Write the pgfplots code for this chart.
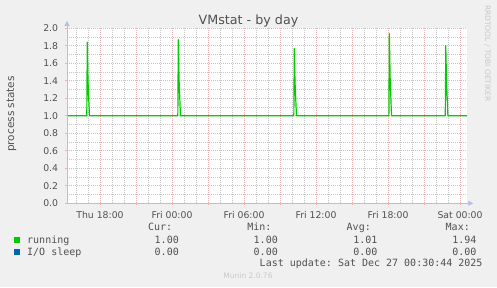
\documentclass[border=0pt]{standalone}
\usepackage{pgfplots}
\pgfplotsset{compat=1.18}
\usepackage{pgfplotstable}
\usepackage{fontspec}
\setmainfont{DejaVu Sans}
\setmonofont{DejaVu Sans Mono}
\usetikzlibrary{arrows.meta}
\definecolor{bg}{HTML}{F0F0F0}
\definecolor{txt}{HTML}{505050}
\definecolor{mgrid}{HTML}{ECB4B4}
\definecolor{sgrid}{HTML}{C8C8C8}
\definecolor{axcol}{HTML}{B4BCF0}
\definecolor{run}{HTML}{00CC00}
\definecolor{ios}{HTML}{0066B3}
\definecolor{wm}{HTML}{C8C8C8}

\pgfplotstableread{
x y
-8.75 1.0
-7.10 1.0
-7.06 1.84
-7.00 1.40
-6.88 1.0
0.485 1.0
0.525 1.87
0.585 1.42
0.705 1.0
10.15 1.0
10.19 1.77
10.25 1.38
10.37 1.0
18.07 1.0
18.11 1.94
18.17 1.45
18.29 1.0
22.77 1.0
22.81 1.80
22.87 1.40
22.99 1.0
24.58 1.0
}\running
\pgfplotstableread{
x y
-8.75 0
24.58 0
}\iosleep

\begin{document}
\begin{tikzpicture}[x=1bp,y=1bp]
\fill[bg] (0,0) rectangle (497,287);
\begin{axis}[
  name=main,
  at={(67bp,83.7bp)}, anchor=south west,
  scale only axis, width=400bp, height=175bp,
  xmin=-8.75, xmax=24.58, ymin=0, ymax=2,
  axis line style={draw=none},
  axis background/.style={fill=white},
  xtick={-6,-3,0,3,6,9,12,15,18,21,24},
  xticklabels={Thu 18:00,,Fri 00:00,,Fri 06:00,,Fri 12:00,,Fri 18:00,,Sat 00:00},
  minor xtick={-8,-7,-5,-4,-2,-1,1,2,4,5,7,8,10,11,13,14,16,17,19,20,22,23},
  ytick={0,0.2,0.4,0.6,0.8,1.0,1.2,1.4,1.6,1.8,2.0},
  minor ytick={0.1,0.3,0.5,0.7,0.9,1.1,1.3,1.5,1.7,1.9},
  xtick pos=bottom, ytick pos=left,
  grid=both,
  major grid style={mgrid, dash pattern=on 1bp off 1bp, line width=0.7bp},
  minor grid style={sgrid, dash pattern=on 1bp off 1bp, line width=0.7bp},
  tick align=outside, major tick length=2bp, minor tick length=0bp,
  tick style={mgrid, line width=0.7bp},
  /pgf/number format/assume math mode=true,
  tick label style={font=\fontsize{9.3bp}{11bp}\selectfont, text=txt},
  xticklabel style={anchor=base, inner sep=0pt, yshift=-12.7bp},
  yticklabel style={anchor=east, inner sep=0pt, xshift=-6.7bp,
    /pgf/number format/fixed, /pgf/number format/fixed zerofill,
    /pgf/number format/precision=1},
]
\addplot[ios, line width=1.2bp, line join=round] table[x=x,y=y] {\iosleep};
\addplot[run, line width=1.2bp, line join=round] table[x=x,y=y] {\running};
\end{axis}
\draw[axcol, line width=1bp, -{Triangle[length=5bp,width=5bp]}] (main.south west) -- ([xshift=6.3bp]main.south east);
\draw[axcol, line width=1bp, -{Triangle[length=5bp,width=5bp]}] (main.south west) -- ([yshift=7.3bp]main.north west);
% title
\node[anchor=base, text=txt, font=\fontsize{12.7bp}{15bp}\selectfont, inner sep=0pt] at (248.5,263) {VMstat - by day};
% y label
\node[anchor=base, rotate=90, text=txt, font=\fontsize{10.5bp}{12bp}\selectfont, inner sep=0pt] at (14,173) {process states};
% watermark
\node[rotate=-90, text=wm, font=\fontsize{7.5bp}{9bp}\selectfont, inner sep=0pt] at (487.5,233.7) {RRDTOOL / TOBI OETIKER};
% legend
\begin{scope}[every node/.style={inner sep=0pt, text=txt, font=\ttfamily\fontsize{10bp}{12bp}\selectfont}]
\node[anchor=base east] at (172.3,56.3) {Cur:};
\node[anchor=base east] at (271.7,56.3) {Min:};
\node[anchor=base east] at (371,56.3) {Avg:};
\node[anchor=base east] at (470,56.3) {Max:};
\fill[run] (14.3,44) rectangle (20,49.7);
\node[anchor=base west] at (27,44) {running};
\node[anchor=base east] at (179,44) {1.00};
\node[anchor=base east] at (278,44) {1.00};
\node[anchor=base east] at (377.7,44) {1.01};
\node[anchor=base east] at (476.7,44) {1.94};
\fill[ios] (14.3,32) rectangle (20,37.7);
\node[anchor=base west] at (27,32) {I/O sleep};
\node[anchor=base east] at (179,32) {0.00};
\node[anchor=base east] at (278,32) {0.00};
\node[anchor=base east] at (377.7,32) {0.00};
\node[anchor=base east] at (476.7,32) {0.00};
\node[anchor=base east] at (482.7,20.3) {Last update: Sat Dec 27 00:30:44 2025};
\end{scope}
\node[anchor=base, text=wm, font=\fontsize{7.5bp}{9bp}\selectfont, inner sep=0pt] at (248,8.3) {Munin 2.0.76};
\end{tikzpicture}
\end{document}
